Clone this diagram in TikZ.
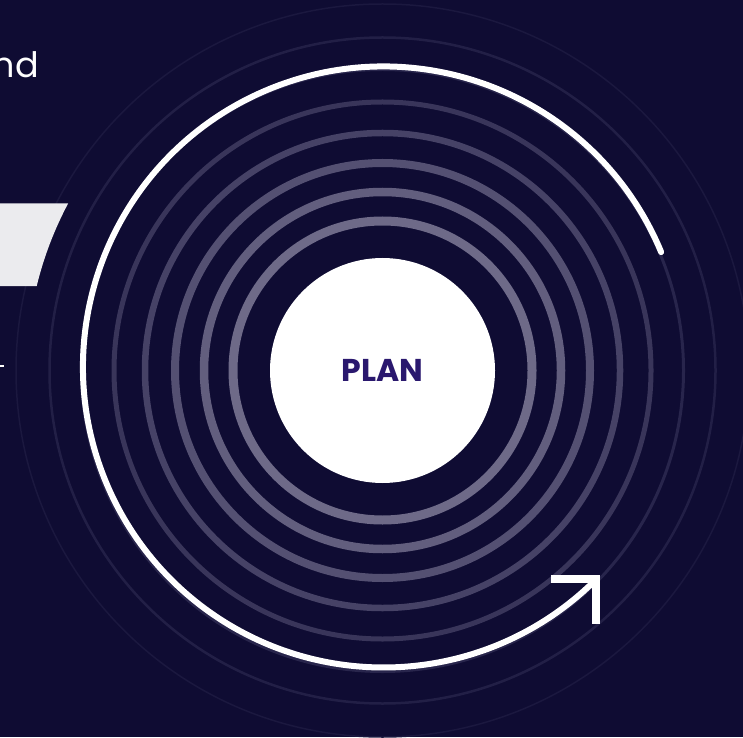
\documentclass[tikz,border=0pt]{standalone}
\usepackage{fontspec}
\setmainfont{Poppins}
\definecolor{bg}{RGB}{15,12,51}
\definecolor{panelgrey}{RGB}{235,235,238}
\definecolor{planink}{RGB}{42,24,110}
\definecolor{ringA}{RGB}{110,106,136}
\definecolor{ringB}{RGB}{98,94,126}
\definecolor{ringC}{RGB}{84,80,114}
\definecolor{ringD}{RGB}{70,66,102}
\definecolor{ringE}{RGB}{57,53,90}
\definecolor{ringF}{RGB}{40,37,76}
\definecolor{ringG}{RGB}{34,31,70}
\definecolor{ringH}{RGB}{27,24,63}
\tikzset{
  ring/.style={draw=#1},
  hub/.style={circle, fill=white, minimum size=225pt, inner sep=0pt,
    text=planink, font=\bfseries\fontsize{31.5}{31.5}\selectfont},
  whitearc/.style={draw=white, line width=6pt, line cap=round},
  chevron/.style={draw=white, line width=8pt, line join=miter, line cap=butt},
  panel/.style={fill=panelgrey},
  bodytext/.style={text=white, inner sep=0pt, font=\fontsize{35}{35}\selectfont}
}
\begin{document}
\begin{tikzpicture}[x=1pt,y=1pt]
\useasboundingbox (0,0) rectangle (743,737);
\fill[bg] (0,0) rectangle (743,737);
\coordinate (c) at (382.5,366.5);
\coordinate (wc) at (383.5,370);

% concentric rings, brighter towards the centre
\draw[ring=ringH, line width=1.5pt] (c) circle[radius=366.5pt];
\draw[ring=ringG, line width=2.5pt] (c) circle[radius=333pt];
\draw[ring=ringF, line width=3pt] (c) circle[radius=301pt];
\draw[ring=ringE, line width=5pt] (c) circle[radius=268.5pt];
\draw[ring=ringD, line width=6.5pt] (c) circle[radius=237.5pt];
\draw[ring=ringC, line width=8pt] (c) circle[radius=207.5pt];
\draw[ring=ringB, line width=8.5pt] (c) circle[radius=178.5pt];
\draw[ring=ringA, line width=9pt] (c) circle[radius=149.5pt];

% light panel on the left, its right edge following the rings
\fill[panel] (c) ++(152:356pt) arc[start angle=152, end angle=166.3, radius=356pt]
  -- (0,450.8) -- (0,533.6) -- cycle;

% small dash at the left edge
\fill[white] (0,370) rectangle (3.5,372.5);

% text cut off at the left edge
\node[bodytext, anchor=base east] (nd) at (39,659) {nd};

% white cycle arrow
\draw[whitearc] (wc) ++(22.5:300.5pt) arc[start angle=22.5, end angle=315, radius=300.5pt]
  coordinate (tip);
\coordinate (armL) at ([xshift=-45pt]tip);
\coordinate (armD) at ([yshift=-45pt]tip);
\draw[chevron] (armL) -- (tip) -- (armD);

% centre disc
\node[hub] (plan) at (c) {PLAN};
\end{tikzpicture}
\end{document}
